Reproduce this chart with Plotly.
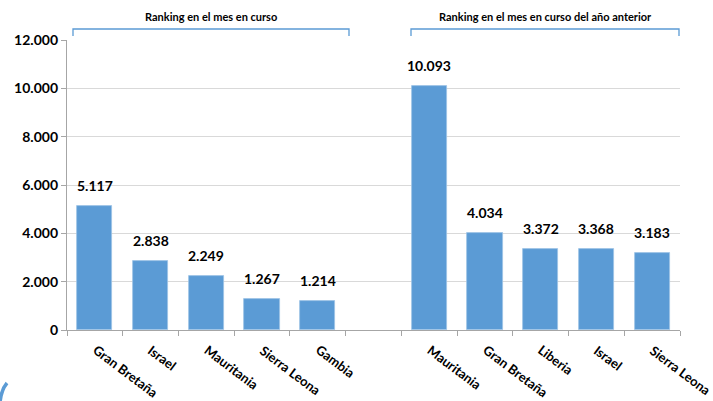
import plotly.graph_objects as go

# Data
cats_current = ["Gran Bretaña", "Israel", "Mauritania", "Sierra Leona", "Gambia"]
vals_current = [5117, 2838, 2249, 1267, 1214]
cats_prev = ["Mauritania", "Gran Bretaña", "Liberia", "Israel", "Sierra Leona"]
vals_prev = [10093, 4034, 3372, 3368, 3183]
group_titles = ["Ranking en el mes en curso", "Ranking en el mes en curso del año anterior"]
y_ticks = [0, 2000, 4000, 6000, 8000, 10000, 12000]

labels = cats_current + [""] + cats_prev
xpos = list(range(len(labels)))
x_cur = xpos[:5]
x_prev = xpos[6:]

BLUE = "#5B9BD5"
FONT = "Lato"

W, H = 713, 401
L, R, T, B = 67, 33, 40, 71
pw, ph = W - L - R, H - T - B

def px2x(px):
    return (px - L) / pw

def py2y(py):
    return (H - B - py) / ph

fig = go.Figure()
fig.add_trace(go.Bar(x=x_cur + x_prev, y=vals_current + vals_prev,
                     marker=dict(color=BLUE, line=dict(color="#9DC3E6", width=0.8)),
                     width=0.63, hoverinfo="skip"))

for x, v in zip(x_cur + x_prev, vals_current + vals_prev):
    fig.add_annotation(x=x, y=v, text=f"{v:,}".replace(",", "."), showarrow=False,
                       yanchor="bottom", yshift=10,
                       font=dict(family=FONT, size=14, color="#000000", weight="bold"))

# rotated category labels (as annotations so the last one may run to the edge)
for x, lab in zip(xpos, labels):
    if not lab:
        continue
    fig.add_annotation(x=x, xref="x", y=py2y(339), yref="paper", text=lab,
                       showarrow=False, textangle=37, xanchor="left", yanchor="top",
                       xshift=-8,
                       font=dict(family=FONT, size=13, color="#000000", weight="bold"))

# group brackets
brackets = [(73, 349), (411, 679)]
for (a, b), title in zip(brackets, group_titles):
    xa, xb = px2x(a), px2x(b)
    y1, y0 = py2y(29), py2y(36)
    fig.add_shape(type="path", xref="paper", yref="paper",
                  path=f"M {xa},{y0} L {xa},{y1} L {xb},{y1} L {xb},{y0}",
                  line=dict(color=BLUE, width=1.3))
    fig.add_annotation(xref="paper", yref="paper", x=(xa + xb) / 2, y=py2y(17),
                       text=title, showarrow=False, yanchor="middle", xanchor="center",
                       font=dict(family=FONT, size=11, color="#000000", weight="bold"))

# decorative corner arc
fig.add_shape(type="path", xref="paper", yref="paper",
              path=f"M {px2x(0)},{py2y(403)} Q {px2x(1)},{py2y(390)} {px2x(7)},{py2y(383)}",
              line=dict(color=BLUE, width=3.5))

fig.update_layout(
    width=W, height=H,
    margin=dict(l=L, r=R, t=T, b=B, pad=0, autoexpand=False),
    plot_bgcolor="white", paper_bgcolor="white",
    separators=",.",
    showlegend=False,
    bargap=0,
    font=dict(family=FONT, color="#000000"),
)
fig.update_xaxes(
    range=[-0.5, 10.5], automargin=False,
    tickmode="array", tickvals=xpos, showticklabels=False, ticks="",
    showline=True, linecolor="#A6A6A6", linewidth=1.3,
    showgrid=False, zeroline=False,
    minor=dict(tickmode="linear", tick0=-0.5, dtick=1, ticks="outside",
               ticklen=5, tickcolor="#A6A6A6", tickwidth=1, showgrid=False),
)
fig.update_yaxes(
    range=[0, 12000], tickvals=y_ticks, automargin=False,
    ticktext=[f"{v:,}".replace(",", ".") for v in y_ticks],
    ticks="outside", ticklen=5, tickcolor="#A6A6A6",
    tickfont=dict(family=FONT, size=14, color="#000000", weight="bold"),
    showline=True, linecolor="#A6A6A6", linewidth=1.3,
    showgrid=True, gridcolor="#D9D9D9", gridwidth=1,
    zeroline=False,
)

fig.write_html("out.html", config={"displayModeBar": False},
               post_script="document.body.style.margin='0';document.body.style.overflow='hidden';")
